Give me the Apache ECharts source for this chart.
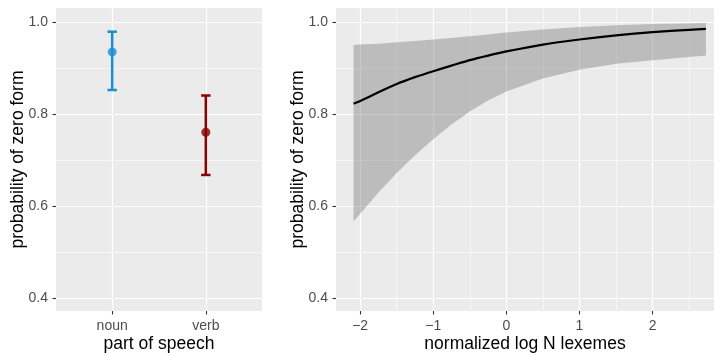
<!DOCTYPE html>
<html>
<head>
<meta charset="utf-8">
<script src="https://cdn.jsdelivr.net/npm/echarts@6/dist/echarts.min.js"></script>
<style>
html,body{margin:0;padding:0;background:#fff;}
#chart{width:714px;height:355px;}
</style>
</head>
<body>
<div id="chart"></div>
<script>
// ---- data ----
const categories = ['noun', 'verb'];
const posEstimate = [0.936, 0.761];
const posLower = [0.853, 0.668];
const posUpper = [0.980, 0.841];
const posColors = ['#1a8fd6', '#8b0000'];

const lexX = [-2.09, -2, -1.75, -1.5, -1.25, -1, -0.75, -0.5, -0.25, 0, 0.5, 1, 1.5, 2, 2.5, 2.73];
const lexFit = [0.823, 0.829, 0.848, 0.866, 0.881, 0.894, 0.906, 0.918, 0.928, 0.937, 0.952, 0.963, 0.972, 0.979, 0.984, 0.986];
const lexLower = [0.567, 0.583, 0.630, 0.672, 0.711, 0.746, 0.778, 0.806, 0.830, 0.850, 0.878, 0.897, 0.910, 0.918, 0.925, 0.928];
const lexUpper = [0.951, 0.952, 0.954, 0.957, 0.960, 0.963, 0.966, 0.970, 0.974, 0.978, 0.985, 0.990, 0.994, 0.997, 0.998, 0.999];

const yMajor = [0.4, 0.6, 0.8, 1.0];
const yMinor = [0.5, 0.7, 0.9];
const xMajor = [-2, -1, 0, 1, 2];
const xMinor = [-1.5, -0.5, 0.5, 1.5, 2.5];

const yTitle = 'probability of zero form';
const xTitleLeft = 'part of speech';
const xTitleRight = 'normalized log N lexemes';

// ---- chart ----
const FONT = '"Liberation Sans", Arial, Helvetica, sans-serif';
const Y_MIN = 0.3717, Y_MAX = 1.0316;

const chart = echarts.init(document.getElementById('chart'), null, {renderer: 'canvas'});

const majorSplit = {show: true, lineStyle: {color: '#ffffff', width: 1.2}};
const minorSplit = {show: true, lineStyle: {color: '#ffffff', width: 0.55}};
const tickStyle = {show: true, inside: false, length: 3.5, lineStyle: {color: '#333333', width: 1.1}};
const labelStyle = {color: '#4d4d4d', fontSize: 14, fontFamily: FONT};
const nameStyle = {color: '#000000', fontSize: 17.5, fontFamily: FONT};
const noLine = {show: false, onZero: false};

function majorY(gridIndex) {
  return {
    type: 'value', gridIndex, min: Y_MIN, max: Y_MAX, position: 'left',
    name: yTitle, nameLocation: 'middle', nameGap: 29, nameMoveOverlap: false, nameTextStyle: nameStyle,
    axisLine: noLine,
    axisTick: Object.assign({customValues: yMajor}, tickStyle),
    axisLabel: Object.assign({customValues: yMajor, margin: 8, formatter: v => v.toFixed(1)}, labelStyle),
    splitLine: majorSplit
  };
}
function minorY(gridIndex) {
  return {
    type: 'value', gridIndex, min: Y_MIN, max: Y_MAX, position: 'left',
    axisLine: noLine,
    axisTick: {show: false, customValues: yMinor},
    axisLabel: {show: false, customValues: yMinor},
    splitLine: minorSplit
  };
}

const option = {
  backgroundColor: '#ffffff',
  animation: false,
  grid: [
    {left: 56, right: 452, top: 8, bottom: 44, containLabel: false, outerBoundsMode: 'none', show: true, backgroundColor: '#ebebeb', borderWidth: 0},
    {left: 336, right: 0, top: 8, bottom: 44, containLabel: false, outerBoundsMode: 'none', show: true, backgroundColor: '#ebebeb', borderWidth: 0}
  ],
  xAxis: [
    {
      type: 'value', gridIndex: 0, min: 0.4, max: 2.6,
      name: xTitleLeft, nameLocation: 'middle', nameGap: 24, nameMoveOverlap: false, nameTextStyle: nameStyle,
      axisLine: noLine,
      axisTick: Object.assign({customValues: [1, 2]}, tickStyle),
      axisLabel: Object.assign({customValues: [1, 2], margin: 8, formatter: v => categories[Math.round(v) - 1]}, labelStyle),
      splitLine: majorSplit
    },
    {
      type: 'value', gridIndex: 1, min: -2.33, max: 2.841,
      name: xTitleRight, nameLocation: 'middle', nameGap: 24, nameMoveOverlap: false, nameTextStyle: nameStyle,
      axisLine: noLine,
      axisTick: Object.assign({customValues: xMajor}, tickStyle),
      axisLabel: Object.assign({customValues: xMajor, margin: 8, formatter: v => (v < 0 ? '\u2212' + Math.abs(v) : String(v))}, labelStyle),
      splitLine: majorSplit
    },
    {
      type: 'value', gridIndex: 1, min: -2.33, max: 2.841,
      axisLine: noLine,
      axisTick: {show: false, customValues: xMinor},
      axisLabel: {show: false, customValues: xMinor},
      splitLine: minorSplit
    }
  ],
  yAxis: [majorY(0), minorY(0), majorY(1), minorY(1)],
  series: [
    {
      type: 'custom', xAxisIndex: 0, yAxisIndex: 0, z: 3,
      data: categories.map((c, i) => [i + 1, posLower[i], posUpper[i]]),
      renderItem: function (params, api) {
        const x = api.value(0);
        const pLo = api.coord([x, api.value(1)]);
        const pHi = api.coord([x, api.value(2)]);
        const hw = 4.7;
        const style = {stroke: posColors[params.dataIndex], lineWidth: 2.5};
        return {
          type: 'group',
          children: [
            {type: 'line', shape: {x1: pLo[0], y1: pLo[1], x2: pHi[0], y2: pHi[1]}, style},
            {type: 'line', shape: {x1: pLo[0] - hw, y1: pLo[1], x2: pLo[0] + hw, y2: pLo[1]}, style},
            {type: 'line', shape: {x1: pHi[0] - hw, y1: pHi[1], x2: pHi[0] + hw, y2: pHi[1]}, style}
          ]
        };
      }
    },
    {
      type: 'scatter', xAxisIndex: 0, yAxisIndex: 0, z: 4,
      symbol: 'circle', symbolSize: 9,
      data: categories.map((c, i) => ({value: [i + 1, posEstimate[i]], itemStyle: {color: posColors[i]}}))
    },
    {
      type: 'custom', xAxisIndex: 1, yAxisIndex: 2, z: 2,
      data: lexX.map((x, i) => [x, lexLower[i], lexUpper[i]]),
      renderItem: function (params, api) {
        if (params.dataIndex !== 0) return null;
        const pts = [];
        for (let i = 0; i < lexX.length; i++) pts.push(api.coord([lexX[i], lexUpper[i]]));
        for (let i = lexX.length - 1; i >= 0; i--) pts.push(api.coord([lexX[i], lexLower[i]]));
        return {
          type: 'polygon',
          shape: {points: pts},
          style: {fill: 'rgba(106,106,106,0.36)', stroke: null}
        };
      }
    },
    {
      type: 'line', xAxisIndex: 1, yAxisIndex: 2, smooth: 0.2, z: 5,
      symbol: 'none', lineStyle: {color: '#000000', width: 2.2},
      data: lexX.map((x, i) => [x, lexFit[i]])
    }
  ]
};
chart.setOption(option);
</script>
</body>
</html>
